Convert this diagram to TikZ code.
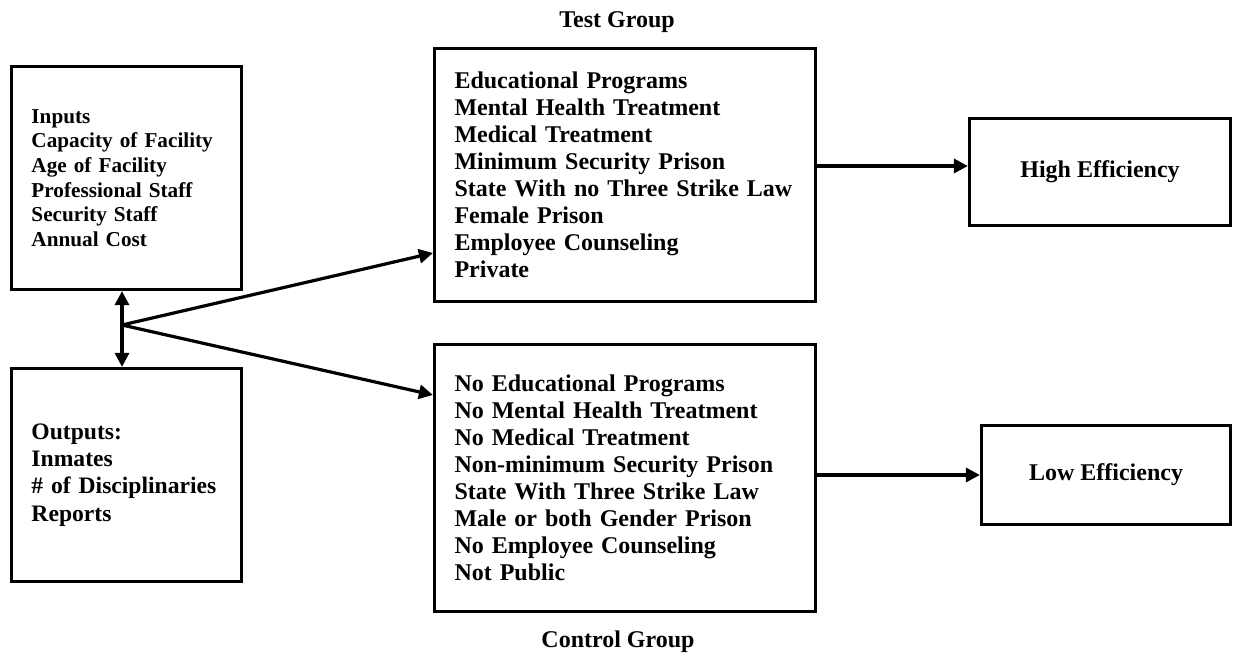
\documentclass[tikz,border=0pt]{standalone}
\usepackage{fontspec}
\setmainfont{Liberation Serif}
\usetikzlibrary{arrows.meta,positioning}

\begin{document}
\begin{tikzpicture}[x=0.5pt, y=-0.5pt, >={Triangle[length=7pt,width=7pt]}, line width=1.6pt,
  every node/.style={font=\fontsize{12}{13.5}\selectfont\bfseries},
  listbox/.style={draw, line width=1.6pt, inner xsep=10pt, inner ysep=0pt, align=left},
  resbox/.style={draw, line width=1.6pt, inner sep=0pt, align=center}]

\useasboundingbox (0,0) rectangle (1235,656);

% left side: inputs and outputs
\node[listbox, minimum width=115pt, minimum height=111.5pt, text width=95pt,
  font=\fontsize{10.6}{12.3}\selectfont\bfseries] (inputs) at (126.5,178)
  {Inputs\\Capacity of Facility\\Age of Facility\\Professional Staff\\Security Staff\\Annual Cost};
\node[listbox, minimum width=115pt, minimum height=106.5pt, text width=95pt,
  font=\fontsize{11.8}{13.6}\selectfont\bfseries] (outputs) at (126.5,475)
  {Outputs:\\Inmates\\\# of Disciplinaries\\Reports};

% groups
\node[listbox, minimum width=190.5pt, minimum height=126.5pt, text width=170.5pt] (test) at (625,175)
  {Educational Programs\\Mental Health Treatment\\Medical Treatment\\Minimum Security Prison\\State With no Three Strike Law\\Female Prison\\Employee Counseling\\Private};
\node[listbox, minimum width=190.5pt, minimum height=133.5pt, text width=170.5pt] (control) at (625,478)
  {No Educational Programs\\No Mental Health Treatment\\No Medical Treatment\\Non-minimum Security Prison\\State With Three Strike Law\\Male or both Gender Prison\\No Employee Counseling\\Not Public};
\node (testlbl) at (617,22) {Test Group};
\node (controllbl) at (618,642) {Control Group};

% results
\node[resbox, minimum width=130.5pt, minimum height=53.5pt] (high) at (1100,172) {High Efficiency};
\node[resbox, minimum width=124.5pt, minimum height=49.5pt] (low) at (1106,475) {Low Efficiency};

\coordinate (split) at (122,325);

\draw[->] (split) -- (split |- inputs.south);
\draw[->] (split) -- (split |- outputs.north);
\draw[->] (split) -- ([yshift=-39pt]test.west);
\draw[->] (split) -- ([yshift=41.5pt]control.west);
\draw[->] ([yshift=4.5pt]test.east) -- ([yshift=3pt]high.west);
\draw[->] (control.east |- low.west) -- (low.west);

\end{tikzpicture}
\end{document}
